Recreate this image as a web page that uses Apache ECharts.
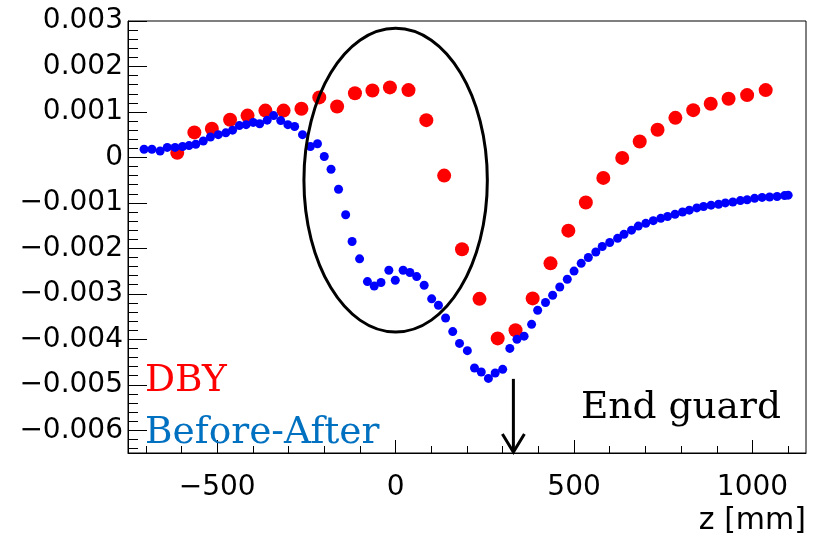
<!DOCTYPE html>
<html><head><meta charset="utf-8">
<script src="https://cdn.jsdelivr.net/npm/echarts@6/dist/echarts.min.js"></script>
<style>html,body{margin:0;padding:0;background:#fff}#c{width:815px;height:543px}</style>
</head><body><div id="c"></div>
<script>
// DBY (red)
const dbyZ = [-612,-564,-515,-464,-415,-365,-314,-264,-214,-164,-114,-65,-16,36,86,136,186,235,286,336,384,434,484,533,582,635,684,734,784,834,883,933,985,1037];
const dbyVal = [0.00010,0.00055,0.00063,0.00083,0.00092,0.00103,0.00103,0.00107,0.00132,0.00112,0.00141,0.00147,0.00154,0.00148,0.00082,-0.00040,-0.00202,-0.00311,-0.00398,-0.00380,-0.00310,-0.00233,-0.00161,-0.00099,-0.00045,-0.00001,0.00035,0.00061,0.00087,0.00104,0.00118,0.00129,0.00137,0.00148];
// Before-After (blue)
const baZ = [-705,-683,-660,-640,-618,-597,-579,-560,-539,-519,-497,-476,-457,-438,-419,-399,-381,-360,-342,-322,-302,-283,-261,-239,-219,-200,-181,-160,-140,-122,-101,-79,-60,-41,-19,-1,21,40,59,80,101,120,140,160,179,201,221,240,260,279,300,320,340,360,381,398,420,440,460,481,500,520,540,561,579,600,622,640,661,680,701,722,743,762,783,804,823,844,863,884,905,924,945,966,985,1006,1027,1048,1069,1090,1100];
const baVal = [0.00018,0.00018,0.00014,0.00022,0.00022,0.00024,0.00026,0.00029,0.00036,0.00045,0.00050,0.00054,0.00060,0.00070,0.00072,0.00077,0.00074,0.00082,0.00092,0.00081,0.00072,0.00068,0.00050,0.00024,0.00030,0.00002,-0.00026,-0.00070,-0.00126,-0.00185,-0.00223,-0.00273,-0.00283,-0.00275,-0.00248,-0.00270,-0.00248,-0.00253,-0.00262,-0.00281,-0.00311,-0.00325,-0.00353,-0.00383,-0.00409,-0.00425,-0.00463,-0.00472,-0.00486,-0.00474,-0.00466,-0.00420,-0.00400,-0.00393,-0.00367,-0.00336,-0.00319,-0.00303,-0.00285,-0.00268,-0.00250,-0.00233,-0.00220,-0.00208,-0.00196,-0.00187,-0.00178,-0.00169,-0.00160,-0.00151,-0.00145,-0.00139,-0.00134,-0.00130,-0.00125,-0.00120,-0.00116,-0.00111,-0.00108,-0.00105,-0.00103,-0.00100,-0.00098,-0.00095,-0.00093,-0.00090,-0.00088,-0.00087,-0.00086,-0.00084,-0.00083];
// Ticks
const xTickLabels = [-500, 0, 500, 1000];
const xMinorTicks = [-700,-600,-400,-300,-200,-100,100,200,300,400,600,700,800,900,1100];
const yTickLabels = [-0.006,-0.005,-0.004,-0.003,-0.002,-0.001,0,0.001,0.002,0.003];
const yMinorTicks = [];
for (let k = -32; k <= 14; k++) { if (k % 5 !== 0) yMinorTicks.push(k * 0.0002); }
// Annotations (data coordinates)
const ellipseCenter = [0, -0.0005];
const ellipseRadius = [257, 0.00334];
const arrowZ = 330, arrowTop = -0.00487, arrowBottom = -0.0065;

const chart = echarts.init(document.getElementById('c'), null, {renderer: 'canvas'});
const sans = 'DejaVu Sans';
const xfmt = v => v < 0 ? '\u2212' + Math.abs(v) : String(v);
const yfmt = v => Math.abs(v) < 1e-12 ? '0' : (v < 0 ? '\u2212' : '') + Math.abs(v).toFixed(3);
const zip = (a, b) => a.map((x, i) => [x, b[i]]);

chart.setOption({
  animation: false,
  backgroundColor: '#fff',
  grid: {left: 128, top: 21, width: 678, height: 432, show: true, borderColor: '#000', borderWidth: 1, backgroundColor: 'transparent'},
  xAxis: [
    {type: 'value', min: -750, max: 1150, position: 'bottom',
     axisLine: {show: true, onZero: false, lineStyle: {color: '#000', width: 1}},
     axisTick: {show: true, inside: true, length: 13, customValues: xTickLabels, lineStyle: {color: '#000'}},
     axisLabel: {show: true, customValues: xTickLabels, formatter: xfmt, fontFamily: sans, fontSize: 28, color: '#000', margin: 21},
     splitLine: {show: false}},
    {type: 'value', min: -750, max: 1150, position: 'bottom', offset: 0,
     axisLine: {show: false, onZero: false},
     axisTick: {show: true, inside: true, length: 7, customValues: xMinorTicks, lineStyle: {color: '#000'}},
     axisLabel: {show: false}, splitLine: {show: false}}
  ],
  yAxis: [
    {type: 'value', min: -0.0065, max: 0.003, position: 'left',
     axisLine: {show: true, onZero: false, lineStyle: {color: '#000', width: 1}},
     axisTick: {show: true, inside: true, length: 19, customValues: yTickLabels, lineStyle: {color: '#000'}},
     axisLabel: {show: true, customValues: yTickLabels, formatter: yfmt, fontFamily: sans, fontSize: 28, color: '#000', margin: 5},
     splitLine: {show: false}},
    {type: 'value', min: -0.0065, max: 0.003, position: 'left', offset: 0,
     axisLine: {show: false, onZero: false},
     axisTick: {show: true, inside: true, length: 10, customValues: yMinorTicks, lineStyle: {color: '#000'}},
     axisLabel: {show: false}, splitLine: {show: false}}
  ],
  series: [
    {name: 'DBY', type: 'scatter', xAxisIndex: 0, yAxisIndex: 0, symbol: 'circle', symbolSize: 14,
     itemStyle: {color: '#ff0000', opacity: 1}, data: zip(dbyZ, dbyVal), z: 2},
    {name: 'Before-After', type: 'scatter', xAxisIndex: 0, yAxisIndex: 0, symbol: 'circle', symbolSize: 9,
     itemStyle: {color: '#0000ff', opacity: 1}, data: zip(baZ, baVal), z: 3}
  ]
});

function px(z, v) { return chart.convertToPixel({xAxisIndex: 0, yAxisIndex: 0}, [z, v]); }
const c = px(ellipseCenter[0], ellipseCenter[1]);
const e = px(ellipseCenter[0] + ellipseRadius[0], ellipseCenter[1] + ellipseRadius[1]);
const aTop = px(arrowZ, arrowTop), aBot = px(arrowZ, arrowBottom);
chart.setOption({
  graphic: [
    {type: 'ellipse', shape: {cx: c[0], cy: c[1], rx: Math.abs(e[0] - c[0]), ry: Math.abs(c[1] - e[1])},
     style: {fill: 'none', stroke: '#000', lineWidth: 3}, z: 10},
    {type: 'line', shape: {x1: aTop[0], y1: aTop[1], x2: aBot[0], y2: aBot[1] - 1}, style: {stroke: '#000', lineWidth: 3}, z: 10},
    {type: 'polyline', shape: {points: [[aBot[0] - 11, aBot[1] - 19], [aBot[0], aBot[1] - 1], [aBot[0] + 11, aBot[1] - 19]]},
     style: {fill: 'none', stroke: '#000', lineWidth: 3}, z: 10},
    {type: 'text', left: 145, top: 362, style: {text: 'DBY', fill: '#ff0000', font: '37.5px "DejaVu Serif"'}, z: 10},
    {type: 'text', left: 145, top: 414, style: {text: 'Before-After', fill: '#0070c0', font: '37.5px "DejaVu Serif"'}, z: 10},
    {type: 'text', left: 581, top: 389, style: {text: 'End guard', fill: '#000', font: '37.5px "DejaVu Serif"'}, z: 10},
    {type: 'text', right: 9, top: 506, style: {text: 'z [mm]', fill: '#000', font: '30px "DejaVu Sans"'}, z: 10}
  ]
});
</script>
</body></html>
